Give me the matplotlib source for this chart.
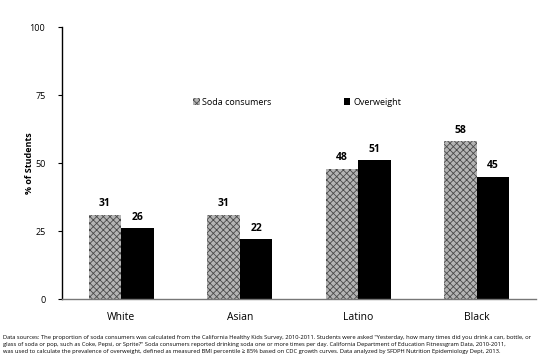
import matplotlib
matplotlib.use("Agg")
import matplotlib.pyplot as plt
import numpy as np

categories = ["White", "Asian", "Latino", "Black"]
soda_consumers = [31, 31, 48, 58]
overweight = [26, 22, 51, 45]
y_ticks = [0, 25, 50, 75, 100]
series_names = ["Soda consumers", "Overweight"]

footnote = [
    "Data sources: The proportion of soda consumers was calculated from the California Healthy Kids Survey, 2010-2011. Students were asked \"Yesterday, how many times did you drink a can, bottle, or",
    "glass of soda or pop, such as Coke, Pepsi, or Sprite?\" Soda consumers reported drinking soda one or more times per day. California Department of Education Fitnessgram Data, 2010-2011,",
    "was used to calculate the prevalence of overweight, defined as measured BMI percentile \u2265 85% based on CDC growth curves. Data analyzed by SFDPH Nutrition Epidemiology Dept, 2013.",
]

plt.rcParams["font.family"] = ["Open Sans", "DejaVu Sans"]
plt.rcParams["hatch.linewidth"] = 0.6

fig = plt.figure(figsize=(5.52, 3.62), dpi=100)
ax = fig.add_axes([0.1123, 0.174, 0.859, 0.751])

x = np.arange(len(categories))
w = 0.275

b1 = ax.bar(x - w / 2, soda_consumers, w, color="#b4b4b4", edgecolor="#4a4a4a",
            hatch="xxxxx", linewidth=0, label=series_names[0])
b2 = ax.bar(x + w / 2, overweight, w, color="black", edgecolor="black",
            linewidth=0, label=series_names[1])

for bars, vals in ((b1, soda_consumers), (b2, overweight)):
    for rect, v in zip(bars, vals):
        ax.text(rect.get_x() + rect.get_width() / 2, v + 2, f"{v}",
                ha="center", va="bottom", fontsize=7.5, fontweight="bold")

ax.set_xlim(-0.5, len(categories) - 0.5)
ax.set_ylim(0, 100)
ax.set_yticks(y_ticks)
ax.set_yticklabels([str(t) for t in y_ticks], fontsize=6.5)
ax.set_xticks(x)
ax.set_xticklabels(categories, fontsize=7.5)
ax.tick_params(axis="x", length=0, pad=9)
ax.tick_params(axis="y", length=3, width=0.8, pad=9)
ax.set_ylabel("% of Students", fontsize=6.5, fontweight="bold")
ax.yaxis.set_label_coords(-0.059, 0.5)

for side in ("top", "right"):
    ax.spines[side].set_visible(False)
ax.spines["left"].set_linewidth(1.0)
ax.spines["bottom"].set_color("#777777")
ax.spines["bottom"].set_linewidth(1.0)

leg = ax.legend(loc="upper left", bbox_to_anchor=(0.26, 0.77), ncol=2,
                frameon=False, fontsize=6.5, handlelength=0.7, handleheight=0.7,
                columnspacing=8.0, handletextpad=0.3)

for i, line in enumerate(footnote):
    fig.text(0.006, 0.069 - i * 0.02, line, fontsize=4.15, ha="left", va="center")

fig.savefig("out.png", dpi=100)
